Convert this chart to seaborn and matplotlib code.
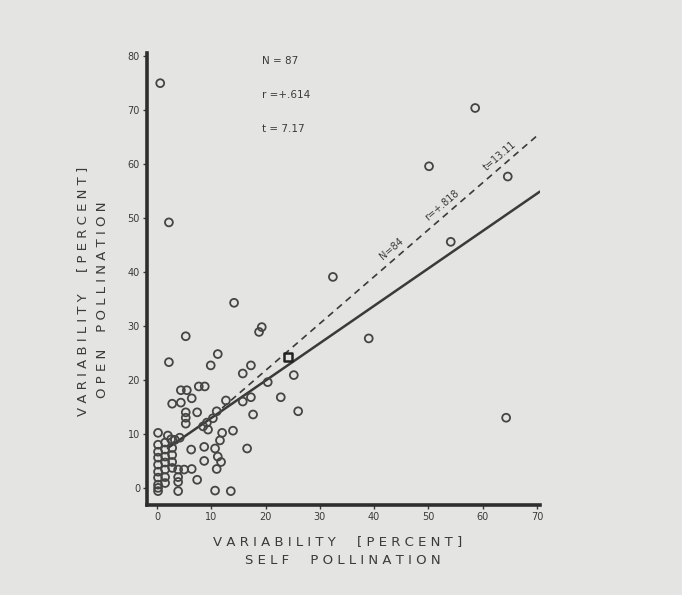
import matplotlib
matplotlib.use("Agg")
import matplotlib.pyplot as plt
import seaborn as sns
import pandas as pd

# ---- data ----
self_poll = [0.6, 2.2, 58.6, 50.1, 64.6, 54.1, 32.4, 39.0, 64.3, 14.2,
             19.3, 18.8, 5.3, 25.2, 22.8, 26.0, 2.2, 11.2, 9.9, 17.3,
             15.8, 20.4, 4.4, 5.5, 7.7, 8.8, 6.4, 2.8, 4.4, 12.7,
             15.8, 17.3, 17.7, 5.3, 5.3, 5.3, 7.4, 11.0, 10.3, 9.2,
             8.5, 9.4, 14.0, 12.0, 11.6, 8.7, 6.3, 10.7, 16.6, 11.2,
             8.7, 11.8, 11.0, 5.0, 6.4, 7.4, 3.9, 10.7, 13.6, 0.2,
             2.0, 3.3, 4.2, 0.2, 0.2, 0.2, 0.2, 0.2, 0.2, 0.2,
             0.2, 1.5, 1.5, 1.5, 1.5, 1.5, 1.5, 1.5, 2.8, 2.8,
             2.8, 2.8, 3.9, 3.9, 3.9, 0.2, 2.6]
open_poll = [75.0, 49.2, 70.4, 59.6, 57.7, 45.6, 39.1, 27.7, 13.0, 34.3,
             29.8, 28.9, 28.1, 20.9, 16.8, 14.2, 23.3, 24.8, 22.7, 22.7,
             21.2, 19.6, 18.1, 18.1, 18.8, 18.8, 16.6, 15.6, 15.8, 16.2,
             16.0, 16.8, 13.6, 14.0, 13.0, 11.9, 14.0, 14.2, 12.9, 12.1,
             11.4, 10.8, 10.6, 10.2, 8.8, 7.6, 7.1, 7.3, 7.3, 5.8,
             5.0, 4.8, 3.5, 3.4, 3.5, 1.5, -0.6, -0.5, -0.6, 10.2,
             9.7, 8.9, 9.3, 8.0, 6.7, 5.6, 4.3, 3.0, 1.9, 0.6,
             -0.6, 8.4, 7.1, 5.8, 4.7, 3.4, 2.0, 0.9, 7.4, 6.1,
             4.8, 3.7, 3.4, 2.0, 1.1, 0.0, 9.0]

mean_x = [24.1]
mean_y = [24.2]

solid_x = [2.0, 70.5]
solid_y = [7.4, 54.9]
dashed_x = [12.0, 70.5]
dashed_y = [14.8, 65.7]

x_ticks = [0, 10, 20, 30, 40, 50, 60, 70]
y_ticks = [0, 10, 20, 30, 40, 50, 60, 70, 80]

stats_all = ["N = 87", "r =+.614", "t = 7.17"]
stats_sub = ["N=84", "r=+.818", "t=13.11"]

# ---- figure ----
BG = "#e4e4e2"
INK = "#3a3a3a"
sns.set_theme(style="white")
plt.rcParams["font.family"] = ["DejaVu Sans"]

fig = plt.figure(figsize=(6.82, 5.95), dpi=100, facecolor=BG)
ax = fig.add_axes([0.2155, 0.151, 0.576, 0.76])
ax.set_facecolor(BG)

df = pd.DataFrame({"self": self_poll, "open": open_poll})
sns.scatterplot(data=df, x="self", y="open", ax=ax, marker="o", s=32,
                facecolor="none", edgecolor="#454545", linewidth=1.3, zorder=3)
sns.lineplot(x=solid_x, y=solid_y, ax=ax, color=INK, lw=1.8, zorder=2)
sns.lineplot(x=dashed_x, y=dashed_y, ax=ax, color=INK, lw=1.2,
             linestyle=(0, (4, 3)), zorder=2)
sns.scatterplot(x=mean_x, y=mean_y, ax=ax, marker="s", s=36,
                facecolor="none", edgecolor="#222", linewidth=1.8, zorder=4)

ax.set_xlim(-1.84, 70.5)
ax.set_ylim(-3.2, 80.6)
ax.set_xticks(x_ticks)
ax.set_yticks(y_ticks)
ax.set_xticklabels([str(t) for t in x_ticks])
ax.set_yticklabels([str(t) for t in y_ticks])
ax.tick_params(axis="both", direction="out", length=3, width=1,
               labelsize=7, colors=INK, pad=2, left=True, bottom=True)
for s in ["top", "right"]:
    ax.spines[s].set_visible(False)
for s in ["left", "bottom"]:
    ax.spines[s].set_linewidth(2.6)
    ax.spines[s].set_color("#2e2e2e")
ax.set_xlabel("")
ax.set_ylabel("")

# stats text
for txt, (tx, ty) in zip(stats_all, [(22.6, 79.1), (23.8, 72.8), (23.3, 66.5)]):
    ax.text(tx, ty, txt, fontsize=7.5, color=INK, ha="center", va="center")
for txt, (tx, ty) in zip(stats_sub, [(43.3, 44.3), (52.5, 52.3), (63.2, 61.6)]):
    ax.text(tx, ty, txt, fontsize=7, color=INK, ha="center", va="center",
            rotation=40.5, rotation_mode="anchor")

def spaced(s):
    return " ".join(s)

# axis titles
fig.text(338 / 682, 1 - 542 / 595, spaced("VARIABILITY") + "     " + spaced("[PERCENT]"),
         ha="center", va="center", fontsize=9.5, color=INK)
fig.text(343 / 682, 1 - 561 / 595, spaced("SELF") + "     " + spaced("POLLINATION"),
         ha="center", va="center", fontsize=9.5, color=INK)
fig.text(83 / 682, 1 - 291 / 595, spaced("VARIABILITY") + "     " + spaced("[PERCENT]"),
         ha="center", va="center", fontsize=9.5, color=INK, rotation=90)
fig.text(103 / 682, 1 - 300 / 595, spaced("OPEN") + "    " + spaced("POLLINATION"),
         ha="center", va="center", fontsize=9.5, color=INK, rotation=90)

fig.savefig("out.png", dpi=100, facecolor=BG)
